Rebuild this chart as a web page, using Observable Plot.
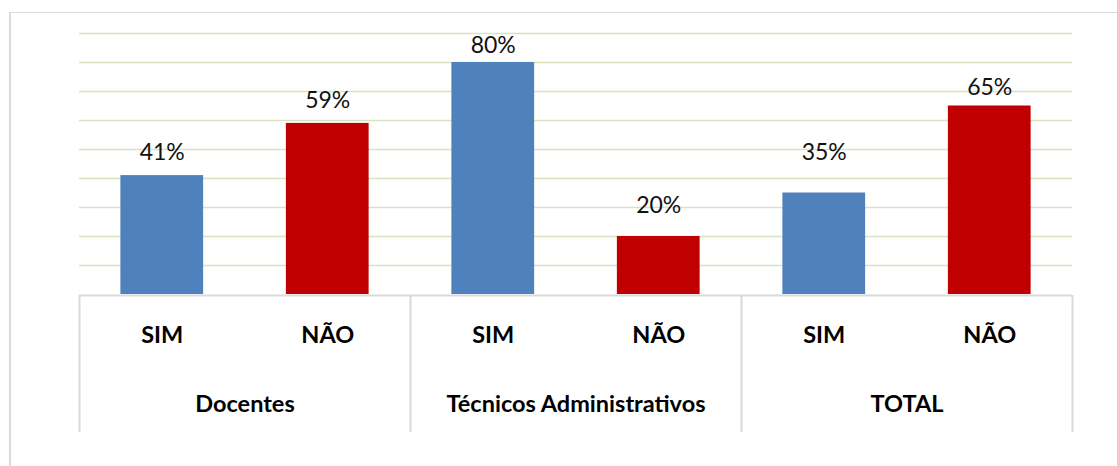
<!DOCTYPE html>
<html>
<head>
<meta charset="utf-8">
<script src="https://cdn.jsdelivr.net/npm/d3@7"></script>
<script src="https://cdn.jsdelivr.net/npm/@observablehq/plot@0.6"></script>
<style>
  html, body { margin: 0; padding: 0; background: #fff; width: 1117px; height: 466px; overflow: hidden; }
  #wrap { position: relative; width: 1117px; height: 466px; }
  #border { position: absolute; left: 9px; top: 12px; width: 1300px; height: 700px;
            border-left: 2px solid #dadada; border-top: 1.5px solid #dadada; pointer-events: none; }
  svg { display: block; }
</style>
</head>
<body>
<div id="wrap"><div id="chart"></div><div id="border"></div></div>
<script>
// ---- data ----
const groups = ["Docentes", "Técnicos Administrativos", "TOTAL"];
const answers = ["SIM", "NÃO"];
const simValues = [41, 80, 35];
const naoValues = [59, 20, 65];
const yTicks = [10, 20, 30, 40, 50, 60, 70, 80, 90];

// table built from the arrays
const rows = [];
groups.forEach((g, gi) => {
  rows.push({group: g, answer: answers[0], value: simValues[gi], i: gi * 2});
  rows.push({group: g, answer: answers[1], value: naoValues[gi], i: gi * 2 + 1});
});

// ---- layout / style ----
const W = 1117;
const mL = 79, mR = 45;
const font = "Lato, 'Open Sans', sans-serif";
const blue = "#4f81bd", red = "#c00000";
const labelGap = [23, 23, 17, 31, 40, 18]; // pixel gap of each value label above its bar
const nSlots = groups.length * answers.length;

const barsPlot = Plot.plot({
  width: W, height: 294,
  marginLeft: mL, marginRight: mR, marginTop: 33, marginBottom: 0,
  style: {fontFamily: font, background: "transparent", overflow: "visible"},
  x: {domain: [0, nSlots], axis: null},
  y: {domain: [0, 90], axis: null},
  color: {domain: answers, range: [blue, red]},
  marks: [
    Plot.ruleY(yTicks, {stroke: "#d7e4bd", strokeWidth: 1.6}),
    Plot.rectY(rows, {x1: d => d.i + 0.25, x2: d => d.i + 0.75, y: "value", fill: "answer"}),
    ...rows.map((r, k) => Plot.text([r], {
      x: d => d.i + 0.5, y: "value", text: d => d.value + "%",
      dy: -labelGap[k], fontSize: 23, fill: "#111", clip: false
    }))
  ]
});

const axisPlot = Plot.plot({
  width: W, height: 172,
  marginLeft: mL, marginRight: mR, marginTop: 1, marginBottom: 34,
  style: {fontFamily: font, background: "transparent", overflow: "visible"},
  x: {domain: [0, nSlots], axis: null},
  y: {domain: [0, 1], reverse: true, axis: null},
  marks: [
    Plot.ruleY([0], {stroke: "#d9d9d9", strokeWidth: 2}),
    Plot.ruleX(d3.range(groups.length + 1).map(k => k * answers.length), {stroke: "#d9d9d9", strokeWidth: 2}),
    Plot.text(rows, {x: d => d.i + 0.5, frameAnchor: "top", lineAnchor: "middle", dy: 40, text: "answer",
      fontSize: 23.5, fontWeight: "bold", fill: "#000"}),
    Plot.text(groups, {x: (d, k) => k * answers.length + answers.length / 2, frameAnchor: "top", lineAnchor: "middle", dy: 109,
      text: d => d, fontSize: 23.5, fontWeight: "bold", fill: "#000"})
  ]
});

document.getElementById("chart").append(barsPlot, axisPlot);
</script>
</body>
</html>
